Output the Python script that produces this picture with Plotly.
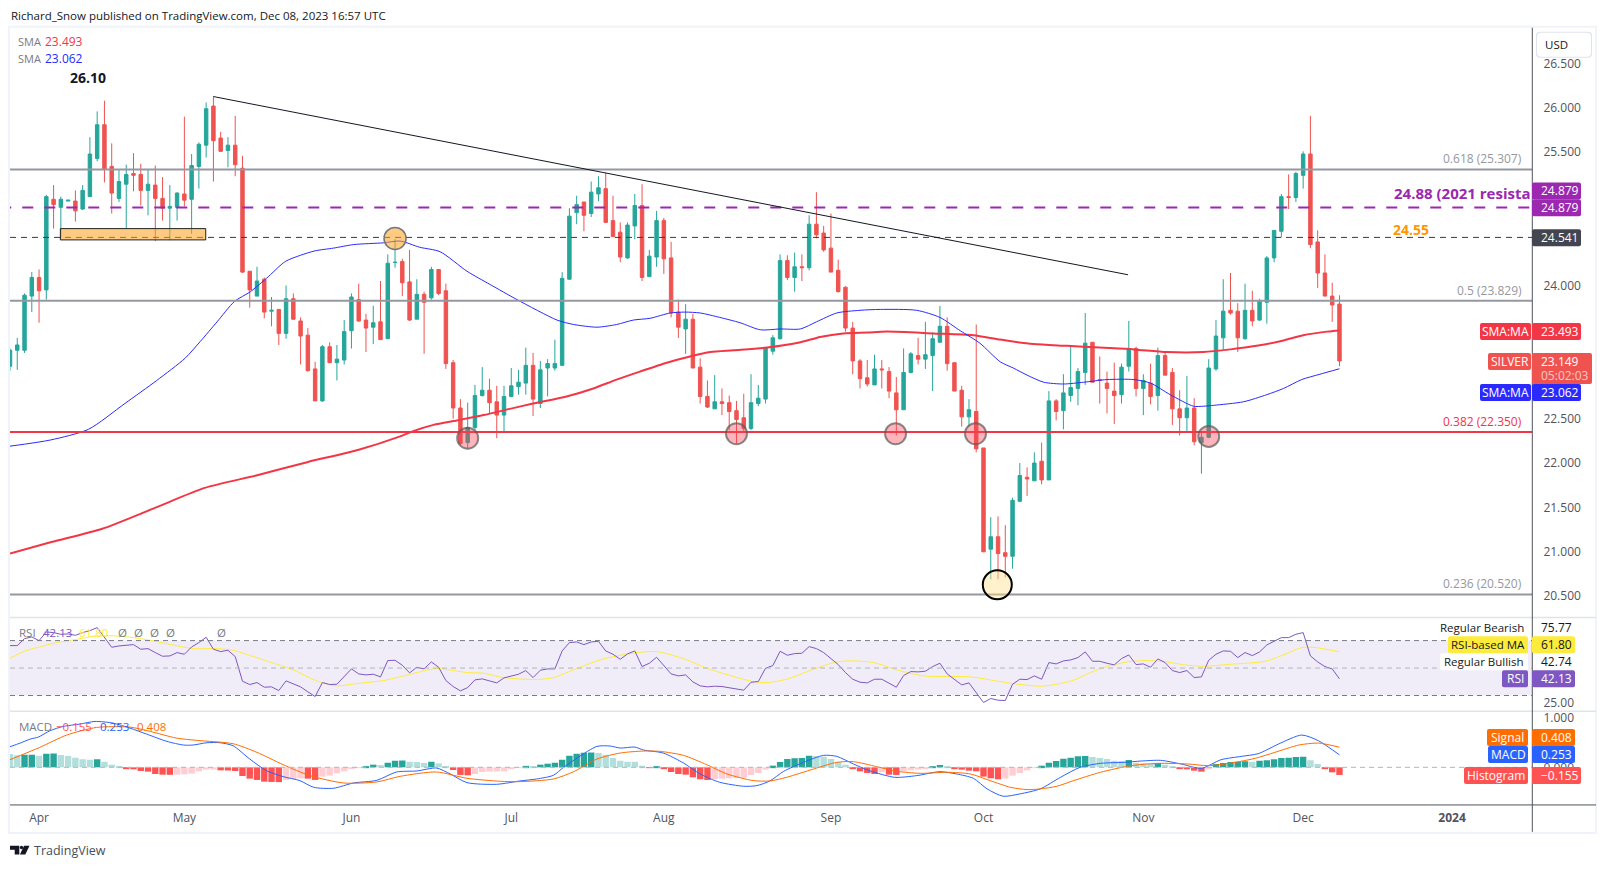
"""Silver daily chart with SMA, RSI and MACD panes, TradingView style."""

import plotly.graph_objects as go
from plotly.subplots import make_subplots

W, H = 1606, 869
FONT = "Open Sans"

OPEN = [
    23.09, 23.27, 23.27, 23.88, 24.09, 23.95, 24.97, 24.88, 24.95, 24.95,
    24.86, 25.00, 25.43, 25.81, 25.34, 24.98, 25.14, 25.26, 25.25, 25.07,
    25.13, 24.98, 24.87, 24.88, 25.03, 24.97, 25.34, 25.58, 26.02, 25.66,
    25.52, 25.58, 25.32, 24.16, 23.88, 24.07, 23.71, 23.73, 23.46, 23.85,
    23.60, 23.44, 23.06, 22.70, 23.31, 23.13, 23.16, 23.49, 23.84, 23.61,
    23.53, 23.59, 23.40, 24.26, 24.27, 24.04, 23.62, 23.90, 23.86, 24.18,
    23.94, 23.13, 22.62, 22.23, 22.40, 22.76, 22.82, 22.69, 22.54, 22.75,
    22.86, 22.90, 23.10, 22.67, 23.07, 23.07, 23.10, 24.07, 24.82, 24.94,
    24.81, 25.03, 25.09, 24.73, 24.60, 24.31, 24.67, 24.90, 24.10, 24.32,
    24.73, 24.31, 23.70, 23.51, 23.62, 23.08, 22.75, 22.61, 22.69, 22.68,
    22.59, 22.51, 22.39, 22.67, 22.72, 23.26, 23.40, 24.28, 24.09, 24.21,
    24.20, 24.69, 24.59, 24.42, 24.17, 23.98, 23.52, 23.15, 22.96, 22.88,
    23.06, 23.03, 22.79, 22.60, 23.02, 23.21, 23.17, 23.21, 23.36, 23.54,
    23.13, 22.82, 22.52, 22.58, 22.17, 21.03, 21.17, 20.99, 20.95, 21.57,
    21.84, 21.80, 22.02, 21.81, 22.70, 22.59, 22.76, 22.84, 23.02, 23.36,
    22.94, 22.90, 22.81, 22.77, 23.09, 23.29, 22.84, 22.90, 22.76, 23.21,
    23.02, 22.61, 22.51, 22.62, 22.23, 22.29, 23.06, 23.41, 23.72, 23.71,
    23.40, 23.72, 23.61, 23.81, 24.31, 24.61, 25.00, 24.99, 25.24, 25.48,
    24.49, 24.14, 23.88, 23.79,
]
HIGH = [
    23.29, 23.41, 23.91, 24.15, 24.18, 25.02, 25.13, 25.00, 24.96, 25.07,
    25.13, 25.67, 25.96, 26.08, 25.60, 25.31, 25.36, 25.49, 25.37, 25.31,
    25.35, 25.22, 25.13, 25.05, 25.90, 25.48, 25.61, 26.06, 26.13, 25.73,
    25.67, 25.91, 25.46, 24.16, 24.21, 24.09, 23.87, 23.73, 24.00, 23.91,
    23.64, 23.52, 23.14, 23.33, 23.36, 23.33, 23.61, 23.91, 24.02, 23.68,
    23.77, 24.05, 24.35, 24.52, 24.30, 24.40, 24.07, 23.93, 24.21, 24.18,
    24.02, 23.16, 22.72, 22.68, 22.88, 23.08, 22.95, 22.87, 22.87, 23.07,
    23.05, 23.30, 23.24, 23.15, 23.17, 23.39, 24.15, 24.87, 25.01, 24.94,
    25.17, 25.23, 25.27, 25.01, 24.71, 24.71, 25.03, 25.14, 24.40, 24.84,
    24.76, 24.49, 23.84, 23.79, 23.68, 23.18, 22.93, 22.99, 22.84, 22.76,
    22.70, 22.78, 23.00, 22.88, 23.30, 23.44, 24.35, 24.34, 24.37, 24.35,
    24.79, 25.05, 24.67, 24.81, 24.29, 23.99, 23.59, 23.17, 23.16, 23.22,
    23.16, 23.08, 22.97, 23.29, 23.25, 23.41, 23.59, 23.47, 23.77, 23.64,
    23.13, 22.87, 22.72, 23.56, 22.17, 21.39, 21.40, 21.30, 21.61, 22.00,
    21.95, 22.12, 22.23, 22.81, 22.72, 23.00, 23.32, 23.07, 23.69, 23.36,
    23.20, 23.03, 23.13, 23.12, 23.60, 23.31, 23.00, 23.12, 23.30, 23.26,
    23.07, 22.82, 22.98, 22.73, 22.35, 23.17, 23.61, 24.07, 24.14, 23.80,
    24.02, 23.94, 23.85, 24.33, 24.62, 25.03, 25.25, 25.28, 25.51, 25.91,
    24.62, 24.35, 24.03, 23.89,
]
LOW = [
    23.04, 23.05, 23.24, 23.70, 23.58, 23.84, 24.64, 24.53, 24.95, 24.72,
    24.85, 25.00, 25.40, 25.16, 24.81, 24.94, 24.64, 25.06, 24.90, 24.79,
    24.50, 24.73, 24.51, 24.73, 24.89, 24.58, 25.09, 25.44, 25.17, 25.51,
    25.33, 25.23, 24.14, 23.75, 23.88, 23.63, 23.54, 23.33, 23.40, 23.61,
    23.11, 23.03, 22.70, 22.69, 23.13, 22.93, 23.11, 23.29, 23.59, 23.25,
    23.34, 23.39, 23.40, 24.20, 23.88, 23.60, 23.62, 23.23, 23.84, 23.89,
    23.06, 22.50, 22.20, 22.16, 22.37, 22.75, 22.56, 22.28, 22.35, 22.74,
    22.77, 22.77, 22.53, 22.62, 22.75, 23.04, 23.10, 24.07, 24.69, 24.61,
    24.77, 24.95, 24.71, 24.55, 24.26, 24.30, 24.52, 24.05, 24.10, 24.21,
    24.13, 23.64, 23.41, 23.23, 23.07, 22.67, 22.62, 22.61, 22.54, 22.37,
    22.22, 22.34, 22.37, 22.64, 22.67, 23.22, 23.39, 24.06, 23.93, 24.05,
    24.17, 24.53, 24.38, 24.15, 23.92, 23.48, 23.00, 22.84, 22.86, 22.88,
    22.84, 22.73, 22.31, 22.60, 23.01, 23.11, 23.06, 22.81, 23.36, 23.04,
    22.81, 22.41, 22.41, 22.12, 21.00, 20.69, 20.69, 20.71, 20.81, 21.56,
    21.63, 21.80, 21.76, 21.81, 22.48, 22.38, 22.69, 22.65, 22.88, 22.91,
    22.67, 22.56, 22.44, 22.67, 23.03, 22.75, 22.54, 22.66, 22.59, 23.00,
    22.43, 22.31, 22.36, 22.20, 21.88, 22.28, 23.04, 23.28, 23.67, 23.25,
    23.39, 23.54, 23.60, 23.57, 24.26, 24.54, 24.86, 24.94, 25.09, 24.42,
    23.97, 23.88, 23.59, 23.09,
]
CLOSE = [
    23.27, 23.33, 23.89, 24.09, 23.94, 25.00, 24.91, 24.97, 24.96, 24.84,
    25.07, 25.48, 25.81, 25.31, 25.04, 25.17, 25.25, 25.24, 25.07, 25.14,
    24.98, 24.87, 24.89, 25.04, 24.96, 25.35, 25.59, 25.99, 25.63, 25.51,
    25.58, 25.36, 24.15, 23.95, 24.05, 23.70, 23.72, 23.46, 23.85, 23.62,
    23.43, 23.04, 22.70, 23.31, 23.13, 23.17, 23.48, 23.87, 23.60, 23.52,
    23.58, 23.39, 24.25, 24.26, 24.03, 23.61, 23.90, 23.81, 24.18, 23.91,
    23.12, 22.62, 22.22, 22.40, 22.76, 22.82, 22.68, 22.54, 22.75, 22.87,
    22.91, 23.10, 22.72, 23.05, 23.12, 23.12, 24.08, 24.78, 24.91, 24.79,
    25.05, 25.10, 24.71, 24.55, 24.32, 24.68, 24.90, 24.09, 24.33, 24.73,
    24.30, 23.69, 23.53, 23.62, 23.07, 22.75, 22.63, 22.69, 22.67, 22.58,
    22.49, 22.39, 22.68, 22.73, 23.30, 23.41, 24.28, 24.09, 24.21, 24.20,
    24.69, 24.57, 24.40, 24.15, 23.93, 23.52, 23.15, 22.95, 22.89, 23.06,
    23.05, 22.81, 22.60, 23.02, 23.23, 23.17, 23.22, 23.40, 23.54, 23.12,
    22.81, 22.52, 22.60, 22.16, 21.00, 21.17, 20.98, 20.95, 21.58, 21.86,
    21.82, 22.00, 21.81, 22.70, 22.58, 22.79, 22.85, 23.03, 23.35, 22.91,
    22.93, 22.84, 22.76, 23.08, 23.29, 22.84, 22.93, 22.75, 23.21, 22.99,
    22.61, 22.51, 22.62, 22.24, 22.29, 23.07, 23.43, 23.71, 23.69, 23.41,
    23.72, 23.60, 23.82, 24.31, 24.62, 25.00, 24.99, 25.26, 25.48, 24.46,
    24.14, 23.88, 23.78, 23.149,
]

SMA200_BAR = [0, 5.7, 12.7, 19.8, 26.8, 33.9, 40.9, 48, 53.7, 55.5, 58.3, 61.5, 65.2, 68.8, 72, 76.6, 80.3, 83.5, 86.7, 90.4,
              93.6, 96.4, 99.6, 104.2, 108.8, 111.5, 114.7, 118, 120.7, 127.1, 132.6, 136.3, 140.9,
              145.5, 150, 154.7, 159.2, 164.3, 168, 171.6, 175.3, 178, 181.3, 183]
SMA200 = [20.98, 21.11, 21.26, 21.49, 21.72, 21.86, 22.01, 22.15, 22.30, 22.36, 22.43, 22.48, 22.54, 22.61, 22.67, 22.75, 22.84, 22.94, 23.03, 23.13,
          23.20, 23.25, 23.27, 23.30, 23.36, 23.42, 23.46, 23.47, 23.48, 23.46, 23.44, 23.39, 23.34,
          23.32, 23.30, 23.28, 23.25, 23.25, 23.28, 23.32, 23.38, 23.44, 23.48, 23.493]
SMA50_BAR = [0, 5.6, 10.8, 15.8, 20.2, 24.1, 26.2, 28.5, 30.9, 33.1, 35.3, 37.9, 40, 42, 44.5, 47.3, 51.4, 53.7,
             56.4, 59.2, 62.9, 66.1, 69.8, 75.3, 77.6, 80.8, 83.5, 85.8, 88.1, 90.9, 92.9, 95, 97.7, 100.5,
             103.3, 106, 108.8, 111, 113.8, 117, 119.8, 124.8, 128, 130.8, 133.5, 136.3, 138.1, 140, 142.3,
             145, 147.8, 151, 154.7, 157, 159.7, 162.9, 164.3, 165.7, 169.8, 173, 175.3, 177.8, 180.3, 183]
SMA50 = [22.19, 22.26, 22.38, 22.67, 22.93, 23.18, 23.37, 23.59, 23.82, 23.93, 24.08, 24.27, 24.34, 24.39, 24.42, 24.46, 24.48, 24.50,
         24.43, 24.38, 24.16, 24.01, 23.84, 23.61, 23.56, 23.53, 23.56, 23.61, 23.63, 23.69, 23.70, 23.69, 23.64, 23.58,
         23.50, 23.51, 23.51, 23.59, 23.69, 23.72, 23.73, 23.72, 23.64, 23.49, 23.35, 23.14, 23.07, 22.99, 22.91,
         22.89, 22.91, 22.94, 22.94, 22.90, 22.77, 22.64, 22.64, 22.65, 22.69, 22.77, 22.84, 22.94, 23.00, 23.062]

RSI = [
    66.35, 66.35, 71.44, 72.65, 69.98, 76.28, 75.80, 74.59, 74.83, 73.86,
    75.80, 77.25, 79.44, 72.16, 65.13, 66.10, 66.83, 67.07, 63.68, 64.16,
    61.26, 58.59, 58.83, 61.26, 60.04, 65.38, 68.53, 72.41, 63.68, 61.98,
    62.95, 58.35, 40.41, 37.99, 39.44, 36.05, 36.29, 33.62, 40.65, 38.47,
    36.29, 32.65, 29.26, 39.44, 37.99, 38.23, 43.80, 49.38, 45.74, 45.01,
    45.50, 43.56, 55.44, 55.68, 52.04, 46.47, 50.59, 49.38, 54.47, 50.59,
    40.89, 36.53, 33.38, 35.80, 41.38, 42.11, 40.65, 39.20, 42.83, 44.29,
    45.50, 48.17, 43.08, 48.41, 49.38, 49.38, 62.47, 68.53, 69.01, 67.07,
    69.01, 69.50, 62.47, 60.04, 56.41, 60.29, 62.47, 51.07, 53.50, 57.86,
    51.56, 45.74, 44.29, 45.01, 39.93, 37.02, 36.29, 36.77, 36.53, 35.80,
    35.08, 33.87, 39.68, 40.17, 49.86, 51.80, 62.23, 59.32, 60.53, 60.77,
    65.62, 64.16, 61.26, 56.89, 52.53, 46.71, 41.86, 39.68, 39.20, 41.86,
    41.86, 38.95, 36.05, 44.53, 47.44, 47.20, 47.68, 51.07, 53.50, 45.74,
    41.86, 37.74, 39.20, 32.17, 24.90, 27.80, 26.59, 26.35, 38.23, 41.86,
    41.62, 44.29, 41.86, 53.98, 53.01, 55.20, 55.92, 57.62, 61.74, 54.95,
    54.95, 53.50, 52.29, 56.89, 59.56, 52.53, 53.01, 50.59, 56.65, 53.98,
    48.17, 46.71, 48.17, 43.08, 43.56, 55.68, 60.04, 62.47, 62.23, 57.62,
    61.26, 59.07, 61.74, 66.83, 69.74, 72.16, 72.16, 74.59, 75.80, 58.83,
    54.47, 51.07, 49.38, 42.13,
]
RSI_MA_BAR = [0, 2.1, 4.6, 6.4, 9.2, 11.9, 14.7, 17, 19.3, 22, 25.2, 28, 30.5, 33.5, 36.7, 39, 42.2, 45, 47.7, 51.4, 55.1,
              58.7, 62.9, 65.2, 67.9, 72.5, 74.8, 78, 81.2, 84, 86.3, 89, 92.7, 95.9, 99.6, 102.3, 104.2, 106.9, 110.6,
              113.8, 116.1, 118.9, 122.1, 125.7, 132.2, 137.7, 141.8, 144.1, 146.4, 148.7, 151, 153.8, 156.1, 158.9,
              161.7, 164.4, 168.1, 172.8, 175.5, 177.8, 179.7, 183]
RSI_MA = [57.13, 62.47, 66.10, 68.53, 70.95, 73.38, 73.38, 72.16, 70.22, 67.32, 64.16, 64.16, 63.20, 58.35, 52.77, 48.65, 40.65, 37.02, 38.71, 40.89, 45.50,
          49.62, 46.71, 46.23, 43.08, 41.62, 43.08, 49.62, 55.92, 59.32, 61.26, 61.98, 56.89, 49.86, 43.80, 40.17, 39.44, 41.86, 49.14,
          54.47, 55.20, 53.98, 48.65, 44.29, 43.56, 38.95, 36.77, 38.23, 41.14, 46.71, 51.07, 54.47, 55.44, 54.71,
          52.29, 51.32, 52.77, 54.95, 60.04, 64.89, 64.89, 61.80]

HIST = [
    0.270, 0.243, 0.254, 0.257, 0.237, 0.277, 0.281, 0.250, 0.230, 0.196,
    0.162, 0.155, 0.162, 0.115, 0.054, 0.027, -0.034, -0.041, -0.074, -0.088,
    -0.135, -0.149, -0.152, -0.149, -0.142, -0.128, -0.081, -0.047, -0.044, -0.061,
    -0.064, -0.074, -0.176, -0.230, -0.257, -0.291, -0.297, -0.301, -0.257, -0.237,
    -0.223, -0.230, -0.257, -0.189, -0.169, -0.122, -0.081, -0.034, -0.007, 0.024,
    0.054, 0.047, 0.095, 0.135, 0.139, 0.115, 0.108, 0.088, 0.115, 0.081,
    0.027, -0.054, -0.155, -0.162, -0.135, -0.095, -0.088, -0.085, -0.081, -0.027,
    -0.014, 0.030, 0.027, 0.054, 0.074, 0.095, 0.155, 0.237, 0.277, 0.297,
    0.301, 0.291, 0.257, 0.189, 0.135, 0.115, 0.112, 0.034, -0.014, 0.010,
    -0.027, -0.095, -0.135, -0.149, -0.203, -0.243, -0.257, -0.237, -0.230, -0.223,
    -0.216, -0.210, -0.155, -0.115, -0.047, 0.034, 0.108, 0.169, 0.183, 0.189,
    0.237, 0.230, 0.216, 0.169, 0.108, 0.054, -0.034, -0.081, -0.115, -0.135,
    -0.101, -0.149, -0.155, -0.081, -0.061, -0.047, -0.034, 0.014, 0.047, 0.020,
    -0.020, -0.047, -0.068, -0.081, -0.189, -0.223, -0.243, -0.230, -0.169, -0.115,
    -0.061, -0.014, 0.034, 0.095, 0.128, 0.176, 0.196, 0.223, 0.230, 0.210,
    0.189, 0.169, 0.135, 0.128, 0.149, 0.095, 0.081, 0.068, 0.088, 0.054,
    0.014, -0.027, -0.041, -0.068, -0.088, -0.034, 0.068, 0.088, 0.108, 0.115,
    0.122, 0.115, 0.135, 0.142, 0.162, 0.189, 0.196, 0.210, 0.216, 0.142,
    0.068, -0.034, -0.101, -0.155,
]
MACD_BAR = [0, 1.4, 2.8, 3.9, 5.5, 7.3, 9.6, 11.7, 14.2, 16.5, 18.8, 21.6, 23.9, 25.2, 27.1, 28.9, 30.7, 33, 35.3, 37.6,
            39.9, 41.8, 44.5, 47.3, 50.5, 53.2, 56, 58.7, 60.6, 62.9, 67, 70.2, 72.5, 74.8, 76.2, 78.2, 80.8, 82.6, 84,
            86, 87.2, 89.9, 92.7, 95, 97.7, 101, 102.8, 104.6, 106.5, 109.2, 112, 113.8, 116.1, 118.4, 121.8, 124.8,
            128, 130.3, 132.6, 134.5, 136.7, 139, 141.8, 144.6, 147.3, 150.1, 153.3, 155.7, 158.4, 161.2, 164, 166.7,
            169.5, 171.8, 174.6, 177.8, 180.1, 183]
MACD = [0.419, 0.493, 0.575, 0.615, 0.744, 0.831, 0.879, 0.933, 0.899, 0.798, 0.676, 0.527, 0.453, 0.453, 0.500, 0.500, 0.439, 0.169, -0.068, -0.189,
        -0.270, -0.406, -0.426, -0.318, -0.264, -0.095, -0.074, -0.014, -0.135, -0.311, -0.345, -0.277, -0.237, -0.162, 0.0, 0.203, 0.426, 0.433, 0.392,
        0.412, 0.352, 0.291, 0.088, -0.135, -0.304, -0.385, -0.372, -0.277, -0.081, 0.101, 0.243, 0.223, 0.068, -0.074, -0.203, -0.169,
        -0.088, -0.135, -0.223, -0.439, -0.588, -0.541, -0.439, -0.203, 0.0, 0.081, 0.101, 0.128, 0.142, 0.068, -0.020, 0.155,
        0.223, 0.277, 0.473, 0.656, 0.541, 0.253]
SIGNAL_BAR = [0, 4.1, 7.8, 11.9, 16.5, 19.3, 22.9, 25.7, 30.7, 34, 37.6, 41.3, 45.9, 50.5, 53.7, 58.7, 62.9, 67.5, 70.2,
              74.8, 77.6, 80.8, 84, 87.2, 89.5, 92.7, 95.9, 98.7, 102.3, 104.6, 106.9, 110.6, 113.8, 116.1, 119.3, 122.1,
              125.3, 129, 132.2, 134.9, 137.7, 140, 141.8, 144.1, 146.4, 150.1, 154.3, 158, 162.1, 164.9, 168.1, 171.4,
              174.1, 177.4, 180.1, 183]
SIGNAL = [0.155, 0.406, 0.656, 0.811, 0.818, 0.730, 0.595, 0.548, 0.480, 0.304, 0.054, -0.169, -0.318, -0.297, -0.183, -0.095, -0.223, -0.284, -0.291,
          -0.237, -0.088, 0.169, 0.291, 0.331, 0.324, 0.243, 0.054, -0.135, -0.270, -0.277, -0.203, -0.034, 0.101, 0.115, 0.014, -0.081,
          -0.122, -0.101, -0.135, -0.270, -0.406, -0.453, -0.439, -0.385, -0.270, -0.101, 0.034, 0.081, 0.068, 0.034, 0.088, 0.183,
          0.304, 0.453, 0.493, 0.408]

MONTH_BARS = [4, 24, 47, 69, 90, 113, 134, 156, 178, 198.5]
MONTH_LABELS = ["Apr", "May", "Jun", "Jul", "Aug", "Sep", "Oct", "Nov", "Dec", "<b>2024</b>"]
PRICE_TICKS = [26.5, 26.0, 25.5, 24.0, 22.5, 22.0, 21.5, 21.0, 20.5]

FIB_LEVELS = [25.307, 23.829, 20.520]
SUPPORT = 22.350
RESISTANCE = 24.879
DOTTED_LEVEL = 24.541
TREND_BARS = [28, 153.9]
TREND_PRICES = [26.127, 24.12]
ZONE_BARS = [6.93, 26.94]
ZONE_PRICES = [24.513, 24.640]
# bar, price
PINK_MARKS = [(63, 22.28), (100, 22.33), (121.9, 22.33), (132.9, 22.33), (165, 22.30)]
ORANGE_MARK = (53, 24.53)
LOW_MARK = (135.9, 20.63)

GREEN, RED = "#26a69a", "#ef5350"
bars = list(range(len(CLOSE)))
x_end = 209.5


def hx(px):
    return px / W


def hy(py):
    return 1 - (py - 1.2) / H


def hist_colors(values):
    out = []
    prev = values[0] + 0.001
    for v in values:
        if v >= 0:
            out.append("#26a69a" if v >= prev else "#b2dfdb")
        else:
            out.append("#ffcdd2" if v >= prev else "#ff5252")
        prev = v
    return out


fig = make_subplots(rows=3, cols=1, shared_xaxes=True)

fig.add_trace(go.Candlestick(
    x=bars, open=OPEN, high=HIGH, low=LOW, close=CLOSE, whiskerwidth=0,
    increasing=dict(line=dict(color=GREEN, width=1), fillcolor=GREEN),
    decreasing=dict(line=dict(color=RED, width=1), fillcolor=RED),
), row=1, col=1)
smooth = dict(shape="spline", smoothing=0.7)
fig.add_trace(go.Scatter(x=SMA200_BAR, y=SMA200, mode="lines", line=dict(color="#f23645", width=2, **smooth)), row=1, col=1)
fig.add_trace(go.Scatter(x=SMA50_BAR, y=SMA50, mode="lines", line=dict(color="#2a2aff", width=1, **smooth)), row=1, col=1)

fig.add_trace(go.Scatter(x=RSI_MA_BAR, y=RSI_MA, mode="lines", line=dict(color="#ffeb3b", width=1, **smooth)), row=2, col=1)
fig.add_trace(go.Scatter(x=bars, y=RSI, mode="lines", line=dict(color="#7e57c2", width=1)), row=2, col=1)

fig.add_trace(go.Bar(x=list(range(len(HIST))), y=HIST, width=0.88, marker=dict(color=hist_colors(HIST), line_width=0)), row=3, col=1)
fig.add_trace(go.Scatter(x=MACD_BAR, y=MACD, mode="lines", line=dict(color="#2962ff", width=1, **smooth)), row=3, col=1)
fig.add_trace(go.Scatter(x=SIGNAL_BAR, y=SIGNAL, mode="lines", line=dict(color="#ff6d00", width=1, **smooth)), row=3, col=1)

shapes = []


def level(y, color, width=2, dash="solid", yref="y", layer="above", start=0):
    shapes.append(dict(type="line", xref="x", yref=yref, x0=start, x1=x_end, y0=y, y1=y, layer=layer,
                       line=dict(color=color, width=width, dash=dash)))


def rule(x0, y0, x1, y1, color, width=1):
    shapes.append(dict(type="line", xref="paper", yref="paper", x0=hx(x0), y0=hy(y0), x1=hx(x1), y1=hy(y1),
                       line=dict(color=color, width=width), layer="above"))


def tag_box(x0, x1, y0, y1, color, r=2):
    path = (f"M{hx(x0 + r)},{hy(y0)} L{hx(x1 - r)},{hy(y0)} Q{hx(x1)},{hy(y0)} {hx(x1)},{hy(y0 + r)} "
            f"L{hx(x1)},{hy(y1 - r)} Q{hx(x1)},{hy(y1)} {hx(x1 - r)},{hy(y1)} "
            f"L{hx(x0 + r)},{hy(y1)} Q{hx(x0)},{hy(y1)} {hx(x0)},{hy(y1 - r)} "
            f"L{hx(x0)},{hy(y0 + r)} Q{hx(x0)},{hy(y0)} {hx(x0 + r)},{hy(y0)} Z")
    shapes.append(dict(type="path", path=path, xref="paper", yref="paper", fillcolor=color,
                       line=dict(width=0), layer="above"))


def mark(bar, price, radius, fill, edge, width):
    shapes.append(dict(type="circle", xref="x", yref="y", xsizemode="pixel", ysizemode="pixel",
                       xanchor=bar, yanchor=price, x0=-radius, x1=radius, y0=-radius, y1=radius,
                       fillcolor=fill, line=dict(color=edge, width=width), layer="above"))


# pane frame, separators and axis lines
shapes.append(dict(type="rect", xref="paper", yref="paper", x0=hx(9), x1=hx(1596), y0=hy(834), y1=hy(26),
                   line=dict(color="#f0f3fa", width=2), fillcolor="rgba(0,0,0,0)", layer="below"))
rule(10, 618, 1596, 618, "#e0e3eb", 1.5)
rule(10, 712, 1596, 712, "#e0e3eb", 1.5)

# RSI band and guides
shapes.append(dict(type="rect", xref="x", yref="y2", x0=0, x1=x_end, y0=30, y1=70, fillcolor="#f0edf8",
                   line_width=0, layer="below"))
level(70, "#787b86", 1, "5px,4px", "y2")
level(50, "#b2b5be", 1, "5px,4px", "y2")
level(30, "#787b86", 1, "5px,4px", "y2")
level(0, "#b2b5be", 1, "5px,4px", "y3")

for fib in FIB_LEVELS:
    level(fib, "#9598a1")
level(SUPPORT, "#f23645")
level(RESISTANCE, "#9c27b0", 2, "11px,11px", start=-1.34)
level(DOTTED_LEVEL, "#363a45", 1, "6px,5px")

shapes.append(dict(type="line", xref="x", yref="y", x0=TREND_BARS[0], x1=TREND_BARS[1], y0=TREND_PRICES[0],
                   y1=TREND_PRICES[1], line=dict(color="#131722", width=1), layer="above"))
shapes.append(dict(type="rect", xref="x", yref="y", x0=ZONE_BARS[0], x1=ZONE_BARS[1], y0=ZONE_PRICES[0],
                   y1=ZONE_PRICES[1], fillcolor="rgba(255,160,30,0.55)", line=dict(color="#222222", width=1), layer="above"))

mark(ORANGE_MARK[0], ORANGE_MARK[1], 11, "rgba(255,160,30,0.55)", "#787878", 1.5)
for b, p in PINK_MARKS:
    mark(b, p, 10.5, "rgba(250,70,85,0.4)", "rgba(90,90,90,0.7)", 2)
mark(LOW_MARK[0], LOW_MARK[1], 14.5, "rgba(255,224,140,0.45)", "#000000", 2)

rule(1532.3, 27, 1532.3, 833, "#50535e", 1)
rule(10, 806, 1596, 806, "#50535e", 1)

# TradingView logo
shapes.append(dict(type="path", xref="paper", yref="paper", fillcolor="#131722", line_width=0, layer="above",
                   path=f"M{hx(10)},{hy(847)} L{hx(19.3)},{hy(847)} L{hx(19.3)},{hy(855.7)} L{hx(14.7)},{hy(855.7)} "
                        f"L{hx(14.7)},{hy(851)} L{hx(10)},{hy(851)} Z"))
shapes.append(dict(type="path", xref="paper", yref="paper", fillcolor="#131722", line_width=0, layer="above",
                   path=f"M{hx(24)},{hy(847)} L{hx(29.5)},{hy(847)} L{hx(25.3)},{hy(855.7)} L{hx(19.9)},{hy(855.7)} Z"))
shapes.append(dict(type="circle", xref="paper", yref="paper", x0=hx(19.8), x1=hx(23.2), y0=hy(850.4), y1=hy(847),
                   fillcolor="#131722", line_width=0, layer="above"))

notes = []


def note(x, y, text, color="#131722", size=12, anchor="left"):
    notes.append(dict(xref="paper", yref="paper", x=hx(x), y=hy(y), text=text, showarrow=False, xanchor=anchor,
                      yanchor="middle", font=dict(family=FONT, size=size, color=color), borderpad=0))


GREY = "#787b86"
note(10, 15, "Richard_Snow published on TradingView.com, Dec 08, 2023 16:57 UTC", "#131722", 11.5)
note(17, 41, "SMA", GREY, 11)
note(44, 41, "23.493", "#f23645")
note(17, 58, "SMA", GREY, 11)
note(44, 58, "23.062", "#2a2aff")
note(69, 77, "<b>26.10</b>", "#131722", 14)

note(1532, 193, "<b>24.88 (2021 resista</b>", "#9c27b0", 15, "right")
note(1392, 229, "<b>24.55</b>", "#ff9800", 14)
note(1523, 158, "0.618 (25.307)", "#9598a1", 12, "right")
note(1523, 290, "0.5 (23.829)", "#9598a1", 12, "right")
note(1523, 422, "0.382 (22.350)", "#f23645", 12, "right")
note(1523, 584, "0.236 (20.520)", "#9598a1", 12, "right")

note(18, 633, "RSI", GREY, 11.5)
note(42, 633, "42.13", "#7e57c2", 11.5)
note(78, 633, "61.80", "#ffeb3b", 11.5)
for ox in (117, 133, 149, 165, 216):
    note(ox, 633, "Ø", GREY, 11.5)
note(18, 727, "MACD", GREY, 11.5)
note(55, 727, "−0.155", "#ff5252", 11.5)
note(99, 727, "0.253", "#2962ff", 11.5)
note(136, 727, "0.408", "#ff6d00", 11.5)

# USD button
tag_box(1536, 1592, 31, 57, "#e0e3eb", 4)
tag_box(1537, 1591, 32, 56, "#ffffff", 4)
note(1544, 44, "USD", "#131722", 11.5)

# price tags on the right scale
tag_box(1532, 1581, 182, 199, "#9c27b0")
tag_box(1532, 1581, 199, 216, "#9c27b0")
tag_box(1532, 1581, 229, 246, "#434651")
tag_box(1480, 1531, 323, 340, "#f23645")
tag_box(1532, 1581, 323, 340, "#f23645")
tag_box(1488, 1531, 353, 370, "#ef5350")
tag_box(1532, 1592, 353, 384, "#ef5350")
tag_box(1480, 1531, 384, 401, "#2a2aff")
tag_box(1532, 1581, 384, 401, "#2a2aff")
for yc, txt in ((190.5, "24.879"), (207.5, "24.879"), (237.5, "24.541"), (331.5, "23.493"), (392.5, "23.062")):
    note(1540, yc, txt, "#ffffff")
note(1540, 361.5, "23.149", "#ffffff")
note(1540, 376, "05:02:03", "#f9c9c8")
note(1505.5, 331.5, "SMA:MA", "#ffffff", 12, "center")
note(1509.5, 361.5, "SILVER", "#ffffff", 12, "center")
note(1505.5, 392.5, "SMA:MA", "#ffffff", 12, "center")

# RSI tags
note(1525, 628, "Regular Bearish", "#131722", 11.5, "right")
note(1540, 628, "75.77", "#131722")
tag_box(1448, 1528, 637, 654, "#ffeb3b")
tag_box(1532, 1575, 637, 654, "#ffeb3b")
note(1526, 645.5, "RSI-based MA", "#131722", 11.5, "right")
note(1540, 645.5, "61.80", "#131722")
tag_box(1440, 1528, 654, 671, "#ffffff")
note(1525, 662, "Regular Bullish", "#131722", 11.5, "right")
note(1540, 662, "42.74", "#131722")
tag_box(1502, 1528, 671, 688, "#7e57c2")
tag_box(1532, 1575, 671, 688, "#7e57c2")
note(1515, 679.5, "RSI", "#ffffff", 12, "center")
note(1540, 679.5, "42.13", "#ffffff")

# MACD tags
tag_box(1487, 1528, 730, 747, "#ff6d00")
tag_box(1532, 1575, 730, 747, "#ff6d00")
note(1507.5, 738.5, "Signal", "#ffffff", 12, "center")
note(1540, 738.5, "0.408", "#ffffff")
tag_box(1488, 1528, 747, 764, "#2962ff")
tag_box(1532, 1575, 747, 764, "#2962ff")
note(1508, 755.5, "MACD", "#ffffff", 12, "center")
note(1540, 755.5, "0.253", "#ffffff")
tag_box(1464, 1528, 768, 785, "#ff5252")
tag_box(1532, 1581, 768, 785, "#ff5252")
note(1496, 776.5, "Histogram", "#ffffff", 12, "center")
note(1540, 776.5, "−0.155", "#ffffff")

note(33, 852, "TradingView", "#4a4e5a", 12.5)

fig.update_layout(
    width=W, height=H, autosize=False, showlegend=False, margin=dict(l=0, r=0, t=0, b=0),
    paper_bgcolor="#ffffff", plot_bgcolor="#ffffff", font=dict(family=FONT, size=12, color="#50535e"),
    boxgap=0.32, bargap=0.12, shapes=shapes, annotations=notes, hovermode=False,
)
common_x = dict(range=[0, x_end], showgrid=False, zeroline=False, showline=False, fixedrange=True,
                domain=[hx(10), hx(1532)])
fig.update_xaxes(**common_x)
fig.update_xaxes(showticklabels=False, ticks="", row=1, col=1)
fig.update_xaxes(showticklabels=False, ticks="", row=2, col=1)
fig.update_xaxes(rangeslider_visible=False, row=1, col=1)
fig.update_xaxes(tickmode="array", tickvals=MONTH_BARS, ticktext=MONTH_LABELS, ticks="outside", ticklen=2,
                 tickcolor="rgba(0,0,0,0)", tickfont=dict(family=FONT, size=12, color="#50535e"), row=3, col=1)

common_y = dict(side="right", showgrid=False, zeroline=False, showline=False, fixedrange=True, ticks="outside",
                ticklen=8, tickcolor="rgba(0,0,0,0)", tickfont=dict(family=FONT, size=12, color="#50535e"))
fig.update_yaxes(domain=[hy(618), hy(27)], range=[20.262, 26.902], tickmode="array", tickvals=PRICE_TICKS,
                 tickformat=".3f", row=1, col=1, **common_y)
fig.update_yaxes(domain=[hy(712), hy(618)], range=[18.6, 86.9], tickmode="array", tickvals=[25], tickformat=".2f",
                 row=2, col=1, **common_y)
fig.update_yaxes(domain=[hy(806), hy(712)], range=[-0.765, 1.142], tickmode="array", tickvals=[1, 0],
                 tickformat=".3f", row=3, col=1, **common_y)

fig.write_html("out.html", config={"displayModeBar": False}, post_script="document.body.style.margin='0';")
